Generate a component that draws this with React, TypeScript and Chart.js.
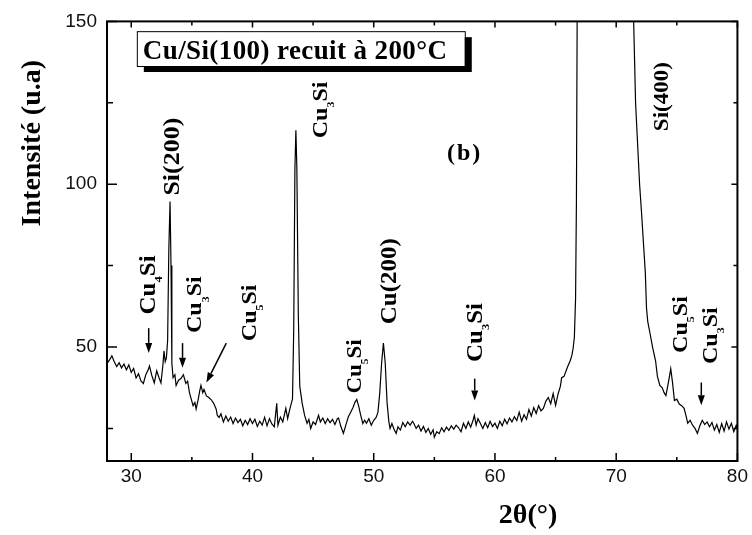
import React, { useEffect, useRef } from 'react';
import { Chart, registerables } from 'chart.js';

Chart.register(...registerables);

// 2θ (degrees) sampling points and measured intensity (u.a)
const theta = [
  28.0, 28.2, 28.4, 28.6, 28.8, 29.0, 29.2, 29.4, 29.6, 29.8,
  30.0, 30.2, 30.4, 30.6, 30.8, 31.0, 31.2, 31.4, 31.5, 31.7,
  31.9, 32.1, 32.3, 32.45, 32.6, 32.7, 32.8, 32.9, 33.0, 33.1,
  33.2, 33.28, 33.35, 33.45, 33.6, 33.7, 33.9, 34.1, 34.3, 34.5,
  34.65, 34.8, 34.95, 35.1, 35.25, 35.35, 35.5, 35.65, 35.75, 35.9,
  36.0, 36.2, 36.4, 36.6, 36.8, 37.0, 37.1, 37.25, 37.4, 37.6,
  37.8, 38.0, 38.2, 38.4, 38.6, 38.8, 39.0, 39.2, 39.4, 39.6,
  39.8, 40.0, 40.2, 40.4, 40.6, 40.8, 41.0, 41.2, 41.4, 41.6,
  41.8, 42.0, 42.1, 42.3, 42.5, 42.75, 42.9, 43.05, 43.2, 43.3,
  43.4, 43.5, 43.58, 43.66, 43.78, 43.9, 44.1, 44.3, 44.5, 44.65,
  44.8, 45.0, 45.2, 45.45, 45.6, 45.8, 46.0, 46.2, 46.4, 46.6,
  46.8, 47.0, 47.1, 47.3, 47.5, 47.7, 47.9, 48.1, 48.3, 48.45,
  48.6, 48.75, 48.9, 49.1, 49.25, 49.4, 49.6, 49.8, 50.0, 50.2,
  50.35, 50.5, 50.65, 50.8, 50.95, 51.1, 51.25, 51.35, 51.5, 51.7,
  51.85, 52.0, 52.2, 52.4, 52.6, 52.8, 53.0, 53.2, 53.3, 53.5,
  53.7, 53.9, 54.1, 54.3, 54.5, 54.7, 54.9, 55.0, 55.2, 55.4,
  55.6, 55.8, 56.0, 56.2, 56.4, 56.6, 56.8, 57.0, 57.2, 57.4,
  57.6, 57.8, 58.0, 58.2, 58.3, 58.45, 58.6, 58.8, 59.0, 59.2,
  59.4, 59.6, 59.8, 60.0, 60.2, 60.4, 60.6, 60.8, 61.0, 61.2,
  61.4, 61.6, 61.8, 62.0, 62.2, 62.4, 62.6, 62.8, 63.0, 63.2,
  63.4, 63.6, 63.8, 64.0, 64.2, 64.4, 64.6, 64.8, 65.0, 65.2,
  65.4, 65.5, 65.7, 65.9, 66.0, 66.2, 66.35, 66.45, 66.55, 66.65,
  66.72, 66.8, 67.2, 68.0, 69.0, 70.0, 70.8, 71.2, 71.44, 71.6,
  71.93, 72.1, 72.4, 72.5, 72.6, 72.8, 73.0, 73.25, 73.4, 73.6,
  73.8, 73.95, 74.1, 74.3, 74.5, 74.65, 74.8, 75.0, 75.2, 75.4,
  75.6, 75.75, 75.9, 76.1, 76.3, 76.5, 76.7, 76.9, 77.1, 77.3,
  77.5, 77.7, 77.9, 78.1, 78.3, 78.5, 78.7, 78.9, 79.1, 79.3,
  79.5, 79.7, 79.9, 80.0,
];

const intensity = [
  45.0, 46.0, 47.3, 45.5, 44.0, 45.2, 43.6, 44.8, 43.0, 44.5,
  42.2, 43.4, 40.5, 41.8, 39.6, 38.8, 41.5, 43.0, 44.2, 41.2,
  39.0, 42.7, 40.5, 39.0, 44.0, 48.8, 45.5, 46.7, 52.0, 80.0,
  94.7, 75.0, 45.0, 40.6, 41.5, 38.2, 39.8, 40.3, 41.5, 38.8,
  39.5, 36.0, 34.0, 32.0, 33.0, 31.0, 33.5, 36.5, 38.2, 36.0,
  37.0, 35.0, 34.5, 33.8, 32.7, 31.0, 29.0, 28.4, 29.5, 27.0,
  28.8, 27.2, 28.5, 26.5, 28.2, 26.8, 27.8, 25.8, 27.5, 26.2,
  28.0, 26.5, 27.8, 25.6, 27.2, 26.0, 28.4, 25.8, 28.0, 26.4,
  25.5, 32.7, 26.0, 28.5, 27.0, 31.2, 28.0, 30.5, 32.7, 34.0,
  55.0, 105.0, 116.6, 105.0, 60.0, 38.0, 32.7, 29.0, 26.6, 27.8,
  25.0, 27.0, 26.2, 29.0, 27.0, 28.2, 26.5, 28.0, 26.8, 27.8,
  26.2, 28.0, 28.2, 25.5, 23.5, 26.0, 28.5, 30.0, 31.5, 33.0,
  33.9, 32.0, 29.5, 26.5, 27.5, 26.6, 28.0, 26.0, 27.5, 28.4,
  30.0, 36.0, 45.0, 51.2, 45.0, 33.0, 27.0, 25.0, 26.5, 24.5,
  23.5, 25.5, 24.5, 26.8, 25.5, 27.0, 26.0, 27.2, 26.6, 25.0,
  26.0, 24.2, 25.6, 23.8, 25.0, 23.2, 24.6, 22.3, 24.0, 23.4,
  25.2, 24.0, 25.4, 24.4, 25.8, 24.8, 26.0, 25.2, 24.0, 26.6,
  25.0, 27.0, 25.4, 27.6, 29.0, 26.0, 28.0, 26.5, 25.0, 26.8,
  25.2, 27.2, 25.6, 26.6, 25.0, 27.2, 25.8, 27.8, 26.4, 28.2,
  27.0, 28.6, 27.4, 30.0, 27.2, 29.2, 27.8, 30.8, 28.8, 31.4,
  29.6, 32.0, 30.4, 31.2, 33.4, 34.5, 32.6, 35.7, 32.1, 35.5,
  38.0, 40.6, 41.0, 43.0, 44.0, 45.7, 47.5, 49.7, 53.0, 65.0,
  95.0, 170.0, 400.0, 1200.0, 3000.0, 1500.0, 400.0, 190.0, 150.0, 124.8,
  100.0, 90.7, 73.0, 62.0, 57.9, 54.0, 50.0, 45.7, 41.0, 38.2,
  37.5, 36.0, 35.1, 39.0, 43.3, 39.0, 33.6, 34.0, 32.5, 32.0,
  31.2, 29.0, 26.6, 27.5, 26.0, 25.0, 23.5, 25.8, 27.5, 26.2,
  27.0, 25.5, 26.8, 24.5, 26.2, 23.8, 26.5, 24.2, 27.0, 24.8,
  26.6, 24.0, 26.0, 25.0,
];

const xMajorTicks = [30, 40, 50, 60, 70, 80];
const xMinorTicks = [35, 45, 55, 65, 75];
const yMajorTicks = [50, 100, 150];
const yMinorTicks = [25, 75, 125];

const titleText = 'Cu/Si(100) recuit à 200°C';
const panelText = '(b)';
const xTitle = '2θ(°)';
const yTitle = 'Intensité (u.a)';

type Part = [string, boolean?];
const Cu3Si: Part[] = [['Cu'], ['3', true], ['Si']];
const Cu4Si: Part[] = [['Cu'], ['4', true], ['Si']];
const Cu5Si: Part[] = [['Cu'], ['5', true], ['Si']];

// peak labels, anchored in data units (2θ, intensity) at the start of the rotated text
const peakLabels: { parts: Part[]; at: [number, number]; size: number }[] = [
  { parts: Cu4Si, at: [31.93, 60.0], size: 25 },
  { parts: [['Si(200)']], at: [33.9, 96.5], size: 26 },
  { parts: Cu3Si, at: [35.79, 54.3], size: 24 },
  { parts: Cu5Si, at: [40.3, 51.8], size: 24 },
  { parts: Cu3Si, at: [46.11, 114.1], size: 24 },
  { parts: Cu5Si, at: [48.98, 35.7], size: 23 },
  { parts: [['Cu(200)']], at: [51.85, 57.0], size: 25 },
  { parts: Cu3Si, at: [58.9, 45.4], size: 25 },
  { parts: [['Si(400)']], at: [74.31, 116.3], size: 23 },
  { parts: Cu5Si, at: [75.87, 48.2], size: 24 },
  { parts: Cu3Si, at: [78.33, 44.8], size: 24 },
];

// arrows: from (2θ, I) to (2θ, I)
const arrows: [number, number, number, number][] = [
  [31.44, 55.8, 31.44, 48.2],
  [34.23, 51.2, 34.23, 43.6],
  [37.84, 51.2, 36.2, 39.1],
  [58.33, 40.3, 58.33, 33.6],
  [77.02, 39.1, 77.02, 32.1],
];

const SERIF = '"Liberation Serif", "Times New Roman", serif';

function drawRotated(ctx: CanvasRenderingContext2D, parts: Part[], x: number, y: number, size: number, condense: number) {
  ctx.save();
  ctx.translate(x, y);
  ctx.rotate(-Math.PI / 2);
  ctx.scale(1, condense);
  ctx.textAlign = 'left';
  ctx.textBaseline = 'alphabetic';
  let u = 0;
  for (const [t, sub] of parts) {
    const fs = sub ? size * 0.5 : size;
    ctx.font = `bold ${fs}px ${SERIF}`;
    ctx.fillText(t, u, sub ? size * 0.33 : 0);
    u += ctx.measureText(t).width;
  }
  ctx.restore();
}

function drawArrow(ctx: CanvasRenderingContext2D, x1: number, y1: number, x2: number, y2: number) {
  const ang = Math.atan2(y2 - y1, x2 - x1);
  const hl = 10;
  const hw = 3.5;
  const bx = x2 - hl * Math.cos(ang);
  const by = y2 - hl * Math.sin(ang);
  ctx.beginPath();
  ctx.lineWidth = 1.5;
  ctx.moveTo(x1, y1);
  ctx.lineTo(bx, by);
  ctx.stroke();
  ctx.beginPath();
  ctx.moveTo(x2, y2);
  ctx.lineTo(bx + hw * Math.sin(ang), by - hw * Math.cos(ang));
  ctx.lineTo(bx - hw * Math.sin(ang), by + hw * Math.cos(ang));
  ctx.closePath();
  ctx.fill();
}

const decorPlugin = {
  id: 'decor',
  afterDraw(chart: any) {
    const { ctx, chartArea: a } = chart;
    const xs = chart.scales.x;
    const ys = chart.scales.y;
    ctx.save();
    ctx.strokeStyle = '#000';
    ctx.fillStyle = '#000';

    // frame
    ctx.lineWidth = 2;
    ctx.strokeRect(a.left, a.top, a.right - a.left, a.bottom - a.top);

    // inward ticks on all four sides
    ctx.lineWidth = 1.5;
    ctx.beginPath();
    const xt = (vals: number[], lb: number, lt: number) => {
      for (const v of vals) {
        const p = xs.getPixelForValue(v);
        ctx.moveTo(p, a.bottom);
        ctx.lineTo(p, a.bottom - lb);
        ctx.moveTo(p, a.top);
        ctx.lineTo(p, a.top + lt);
      }
    };
    const yt = (vals: number[], ll: number, lr: number) => {
      for (const v of vals) {
        const p = ys.getPixelForValue(v);
        ctx.moveTo(a.left, p);
        ctx.lineTo(a.left + ll, p);
        ctx.moveTo(a.right, p);
        ctx.lineTo(a.right - lr, p);
      }
    };
    xt(xMajorTicks, 8, 6);
    xt(xMinorTicks, 4, 4);
    yt(yMajorTicks, 10, 6);
    yt(yMinorTicks, 6, 4);
    ctx.stroke();

    // title box with shadow
    const bl = xs.getPixelForValue(30.46);
    const br = xs.getPixelForValue(57.51);
    const bt = ys.getPixelForValue(147.0);
    const bb = ys.getPixelForValue(136.3);
    ctx.fillStyle = '#000';
    ctx.fillRect(bl + 7, bt + 6, br - bl, bb - bt);
    ctx.fillStyle = '#fff';
    ctx.fillRect(bl, bt, br - bl, bb - bt);
    ctx.lineWidth = 1;
    ctx.strokeRect(bl + 0.5, bt + 0.5, br - bl, bb - bt);
    ctx.fillStyle = '#000';
    ctx.font = `bold 27px ${SERIF}`;
    (ctx as any).letterSpacing = '0.4px';
    ctx.textAlign = 'left';
    ctx.textBaseline = 'alphabetic';
    ctx.fillText(titleText, bl + 6, bb - 7);

    // panel tag
    (ctx as any).letterSpacing = '2px';
    ctx.font = `bold 24px ${SERIF}`;
    ctx.textAlign = 'center';
    ctx.textBaseline = 'middle';
    ctx.fillText(panelText, xs.getPixelForValue(57.5), ys.getPixelForValue(109.3));
    (ctx as any).letterSpacing = '0px';

    // peak labels
    for (const l of peakLabels) {
      drawRotated(ctx, l.parts, xs.getPixelForValue(l.at[0]), ys.getPixelForValue(l.at[1]), l.size, 0.9);
    }

    // arrows
    for (const [x1, y1, x2, y2] of arrows) {
      drawArrow(ctx, xs.getPixelForValue(x1), ys.getPixelForValue(y1), xs.getPixelForValue(x2), ys.getPixelForValue(y2));
    }

    // axis titles
    drawRotated(ctx, [[yTitle]], a.left - 67, a.top + 205, 28, 1);
    ctx.font = `bold 28px ${SERIF}`;
    ctx.textAlign = 'center';
    ctx.textBaseline = 'middle';
    ctx.fillText(xTitle, a.left + 421, a.bottom + 55);

    ctx.restore();
  },
};

export default function App() {
  const ref = useRef<HTMLCanvasElement | null>(null);

  useEffect(() => {
    if (!ref.current) return;
    const points = theta.map((x, i) => ({ x, y: intensity[i] }));
    const tickFont = { family: '"Liberation Sans", Arial, sans-serif', size: 19 };
    const chart = new Chart(ref.current, {
      type: 'line',
      data: {
        datasets: [
          {
            data: points,
            borderColor: '#000',
            borderWidth: 1.2,
            pointRadius: 0,
            tension: 0,
            fill: false,
          },
        ],
      },
      options: {
        animation: false,
        responsive: false,
        devicePixelRatio: 1,
        events: [],
        layout: { padding: { top: 17, right: 10, left: 0, bottom: 0 } },
        plugins: { legend: { display: false }, tooltip: { enabled: false }, title: { display: false } },
        scales: {
          x: {
            type: 'linear',
            min: 28,
            max: 80,
            afterBuildTicks: (s: any) => {
              s.ticks = xMajorTicks.map((v) => ({ value: v }));
            },
            afterFit: (s: any) => {
              s.height = 74;
            },
            ticks: { font: tickFont, color: '#111', padding: 4, maxRotation: 0, autoSkip: false },
            grid: { display: false, drawTicks: false },
            border: { display: false },
          },
          y: {
            type: 'linear',
            min: 15,
            max: 150,
            afterBuildTicks: (s: any) => {
              s.ticks = yMajorTicks.map((v) => ({ value: v }));
            },
            afterFit: (s: any) => {
              s.width = 107;
            },
            ticks: { font: tickFont, color: '#111', padding: 10 },
            grid: { display: false, drawTicks: false },
            border: { display: false },
          },
        },
      },
      plugins: [decorPlugin],
    });
    return () => chart.destroy();
  }, []);

  return (
    <div style={{ position: 'fixed', left: 0, top: 0, width: 752, height: 535, background: '#fff' }}>
      <canvas ref={ref} width={752} height={535} style={{ display: 'block' }} />
    </div>
  );
}
